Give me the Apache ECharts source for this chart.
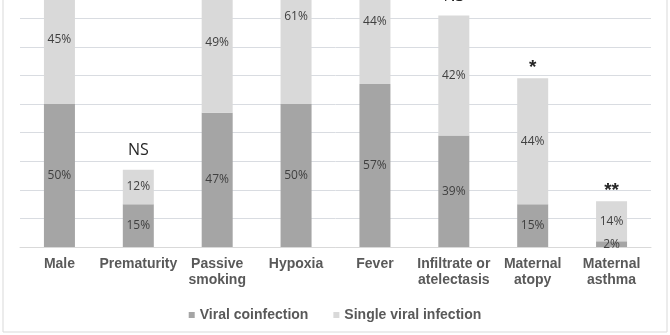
<!DOCTYPE html>
<html>
<head>
<meta charset="utf-8">
<script src="https://cdn.jsdelivr.net/npm/echarts@6/dist/echarts.min.js"></script>
<style>
  html, body { margin: 0; padding: 0; background: #fff; }
  #chart { width: 670px; height: 335px; }
</style>
</head>
<body>
<div id="chart"></div>
<script>
const categories = ['Male', 'Prematurity', 'Passive\nsmoking', 'Hypoxia', 'Fever',
  'Infiltrate or\natelectasis', 'Maternal\natopy', 'Maternal\nasthma']
const coinfection = [50, 15, 47, 50, 57, 39, 15, 2]
const singleInfection = [45, 12, 49, 61, 44, 42, 44, 14]
const significance = ['', 'NS', '', '', '', 'NS', '*', '**']

const chart = echarts.init(document.getElementById('chart'))

const barLabel = {
  show: true,
  position: 'inside',
  formatter: '{c}%',
  color: '#404040',
  fontSize: 12,
  fontFamily: 'Open Sans',
}

// zero-height bars on top of the stack just carry the NS / * marks
const marks = significance.map((s) => ({
  value: 0,
  label: {
    show: s !== '',
    formatter: s,
    distance: s === 'NS' ? 11 : 1,
    fontSize: s === 'NS' ? 16 : 19,
    fontWeight: s === 'NS' ? 'normal' : 'bold',
    fontFamily: s === 'NS' ? 'Open Sans' : 'Liberation Sans',
  },
}))

chart.setOption({
  animation: false,
  graphic: [{
    type: 'rect',
    shape: { x: 3, y: -10, width: 664, height: 342 },
    style: { fill: 'none', stroke: '#d9d9d9', lineWidth: 1 },
  }],
  legend: {
    data: ['Viral coinfection', 'Single viral infection'],
    left: 'center',
    top: 303,
    icon: 'rect',
    itemWidth: 6,
    itemHeight: 6,
    itemGap: 25,
    textStyle: { color: '#595959', fontSize: 14, fontWeight: 'bold', fontFamily: 'Liberation Sans' },
  },
  // the chart is cropped at the top, so the grid reaches above the page
  grid: { left: 20, right: 19, top: -96, bottom: 88, outerBoundsMode: 'none' },
  xAxis: {
    type: 'category',
    data: categories,
    axisLine: { lineStyle: { color: '#d9d9d9' } },
    axisTick: { show: false },
    axisLabel: {
      color: '#595959',
      fontSize: 14,
      fontWeight: 'bold',
      fontFamily: 'Liberation Sans',
      lineHeight: 16,
      margin: 9,
      interval: 0,
    },
  },
  yAxis: {
    type: 'value',
    min: 0,
    max: 120,
    interval: 10,
    axisLabel: { show: false },
    axisLine: { show: false },
    axisTick: { show: false },
    splitLine: { lineStyle: { color: '#d9dce1' } },
  },
  series: [
    {
      name: 'Viral coinfection',
      type: 'bar',
      stack: 'total',
      barWidth: 31,
      data: coinfection,
      itemStyle: { color: '#a5a5a5' },
      label: barLabel,
    },
    {
      name: 'Single viral infection',
      type: 'bar',
      stack: 'total',
      data: singleInfection,
      itemStyle: { color: '#d9d9d9' },
      label: barLabel,
    },
    {
      name: 'marks',
      type: 'bar',
      stack: 'total',
      data: marks,
      itemStyle: { color: 'transparent' },
      label: { show: true, position: 'top', color: '#262626' },
    },
  ],
})
</script>
</body>
</html>
